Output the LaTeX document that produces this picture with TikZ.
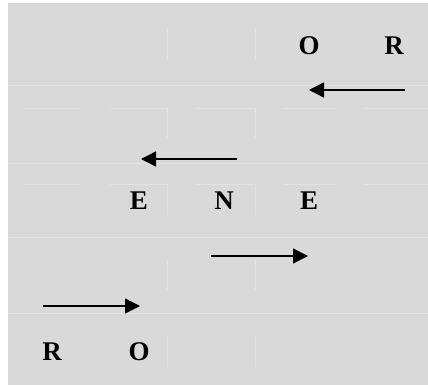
\documentclass[tikz,border=0pt]{standalone}
\usepackage{fontspec}
\setmainfont{Liberation Serif}
\usetikzlibrary{arrows.meta}
\definecolor{bggray}{HTML}{D9D9D9}
\definecolor{gridc}{HTML}{E3E3E3}
\begin{document}
\begin{tikzpicture}[x=1pt,y=-1pt,
  letter/.style={inner sep=0pt,font=\fontsize{27}{32}\selectfont\bfseries},
  arr/.style={line width=1.4pt,-{Triangle[length=15pt,width=15pt]}},
  gridline/.style={draw=gridc,line width=0.6pt}]
\useasboundingbox (0,0) rectangle (428,385);
\fill[white] (0,0) rectangle (428,385);
\fill[bggray] (8,3) rectangle (428,385);
% faint table grid
\foreach \y in {85,163,237,313} \draw[gridline] (8,\y) -- (428,\y);
\foreach \y in {108,184} {
  \draw[gridline] (24,\y) -- (81,\y);
  \draw[gridline] (110,\y) -- (167,\y);
  \draw[gridline] (196,\y) -- (254,\y);
  \draw[gridline] (283,\y) -- (335,\y);
  \draw[gridline] (364,\y) -- (428,\y);
}
\foreach \x in {167,255} {
  \draw[gridline] (\x,28) -- (\x,60);
  \draw[gridline] (\x,108) -- (\x,138);
  \draw[gridline] (\x,184) -- (\x,215);
  \draw[gridline] (\x,260) -- (\x,290);
  \draw[gridline] (\x,336) -- (\x,367);
}
% letters
\node[letter] (o1) at (309,46) {O};
\node[letter] (r1) at (394,46) {R};
\node[letter] (e1) at (139,201) {E};
\node[letter] (n1) at (224,201) {N};
\node[letter] (e2) at (309,201) {E};
\node[letter] (r2) at (52,352) {R};
\node[letter] (o2) at (139,352) {O};
% arrows
\coordinate (a1s) at (405,90);  \coordinate (a1e) at (309,90);
\coordinate (a2s) at (237,159); \coordinate (a2e) at (141,159);
\coordinate (a3s) at (211,256); \coordinate (a3e) at (308,256);
\coordinate (a4s) at (43,306);  \coordinate (a4e) at (140,306);
\draw[arr] (a1s) -- (a1e);
\draw[arr] (a2s) -- (a2e);
\draw[arr] (a3s) -- (a3e);
\draw[arr] (a4s) -- (a4e);
\end{tikzpicture}
\end{document}
